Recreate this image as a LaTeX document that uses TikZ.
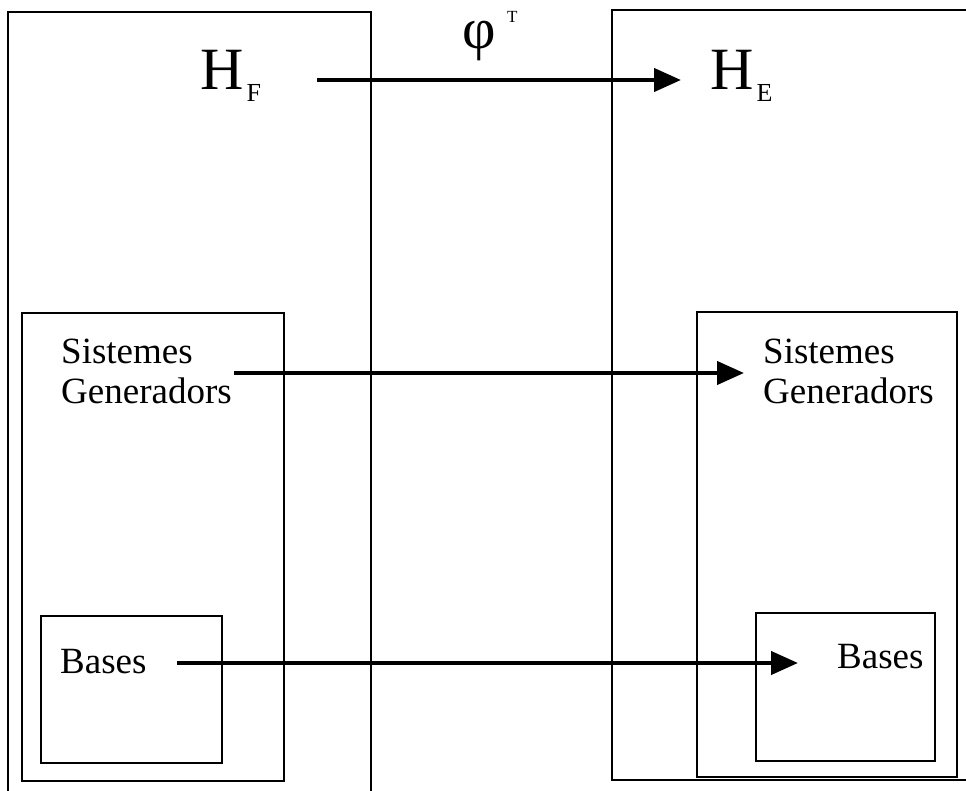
\documentclass[tikz,border=0pt]{standalone}
\usepackage{fontspec}
\setmainfont{Liberation Serif}
\usetikzlibrary{arrows.meta}
\begin{document}
\begin{tikzpicture}[x=1pt,y=-1pt,
  box/.style={draw=black,line width=2.6pt,rectangle,inner sep=0pt},
  lbl/.style={inner sep=0pt,anchor=base west,font=\fontsize{37}{40}\selectfont},
  big/.style={inner sep=0pt,anchor=base west,font=\fontsize{60}{60}\selectfont},
  arr/.style={line width=4.2pt,-{Triangle[length=27pt,width=23pt]}}]
\useasboundingbox (0,0) rectangle (966,791);
\clip (0,0) rectangle (966,791);
% boxes (pixel coordinates, y downwards)
\node[box,minimum width=363pt,minimum height=800pt] (outerL) at (189.5,412) {};
\node[box,minimum width=370pt,minimum height=770pt] (outerR) at (797,395) {};
\node[box,minimum width=262pt,minimum height=468pt] (sgL) at (153,547) {};
\node[box,minimum width=181pt,minimum height=147pt] (bL) at (131.5,689.5) {};
\node[box,minimum width=260pt,minimum height=465pt] (sgR) at (827,544.5) {};
\node[box,minimum width=179pt,minimum height=148pt] (bR) at (845.5,687) {};
% labels
\node[big] (hf) at (200,90) {H\hspace{3pt}\raisebox{-12pt}{\fontsize{26}{26}\selectfont F}};
\node[big] (he) at (710,90) {H\hspace{3pt}\raisebox{-12pt}{\fontsize{26}{26}\selectfont E}};
\node[inner sep=0pt,anchor=base west,font=\fontsize{58}{58}\selectfont] (phi) at (462,49) {φ};
\node[inner sep=0pt,anchor=base west,font=\fontsize{17}{17}\selectfont] (phiT) at (507,23) {T};
\node[lbl] (sisL) at (61,363) {Sistemes};
\node[lbl] (genL) at (61,403) {Generadors};
\node[lbl] (sisR) at (763,363) {Sistemes};
\node[lbl] (genR) at (763,403) {Generadors};
\node[lbl] (basL) at (60,673) {Bases};
\node[lbl] (basR) at (837,668) {Bases};
% arrow end points
\coordinate (a1s) at (317,80);
\coordinate (a1e) at (681,80);
\coordinate (a2s) at (234,373);
\coordinate (a2e) at (744,373);
\coordinate (a3s) at (177,663);
\coordinate (a3e) at (798,663);
\draw[arr] (a1s) -- (a1e);
\draw[arr] (a2s) -- (a2e);
\draw[arr] (a3s) -- (a3e);
\end{tikzpicture}
\end{document}
